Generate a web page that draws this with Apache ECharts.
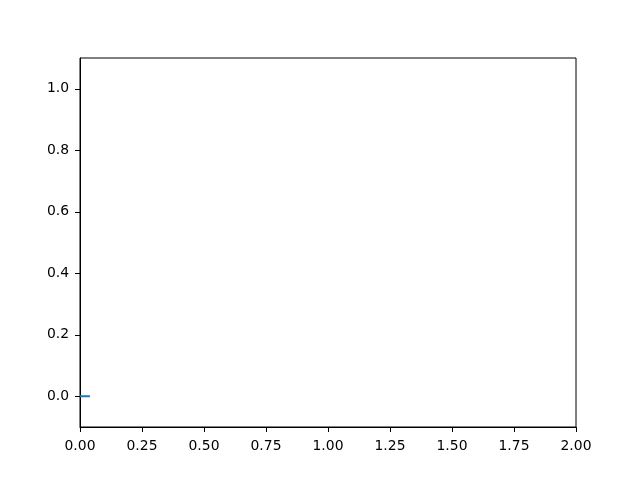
<!DOCTYPE html>
<html><head><meta charset="utf-8">
<script src="https://cdn.jsdelivr.net/npm/echarts@6/dist/echarts.min.js"></script>
<style>html,body{margin:0;padding:0;background:#fff}#c{width:640px;height:480px}</style>
</head><body><div id="c"></div>
<script>
const xValues = [0, 0.02, 0.04];
const yValues = [0, 0, 0];
const xTicks = [0, 0.25, 0.5, 0.75, 1, 1.25, 1.5, 1.75, 2];
const yTicks = [0, 0.2, 0.4, 0.6, 0.8, 1.0];

const chart = echarts.init(document.getElementById('c'), null, {renderer: 'canvas'});
const font = {fontFamily: 'DejaVu Sans', fontSize: 13.9, color: '#000'};
chart.setOption({
  animation: false,
  grid: {left: 80, right: 64, top: 58, bottom: 53, show: true, borderColor: '#000', borderWidth: 1, backgroundColor: 'transparent'},
  xAxis: {
    type: 'value', min: 0, max: 2,
    splitLine: {show: false},
    axisLine: {show: true, onZero: false, lineStyle: {color: '#000', width: 1}},
    axisTick: {show: true, inside: false, length: 5, lineStyle: {color: '#000'}, customValues: xTicks},
    axisLabel: Object.assign({margin: 12, customValues: xTicks, formatter: v => v.toFixed(2)}, font)
  },
  yAxis: {
    type: 'value', min: -0.1, max: 1.1,
    splitLine: {show: false},
    axisLine: {show: true, onZero: false, lineStyle: {color: '#000', width: 1}},
    axisTick: {show: true, inside: false, length: 5, lineStyle: {color: '#000'}, customValues: yTicks},
    axisLabel: Object.assign({margin: 11, customValues: yTicks, formatter: v => v.toFixed(1)}, font)
  },
  series: [{
    type: 'line',
    data: xValues.map((x, i) => [x, yValues[i]]),
    showSymbol: false,
    lineStyle: {color: '#1f77b4', width: 2},
    clip: true
  }]
});
</script></body></html>
